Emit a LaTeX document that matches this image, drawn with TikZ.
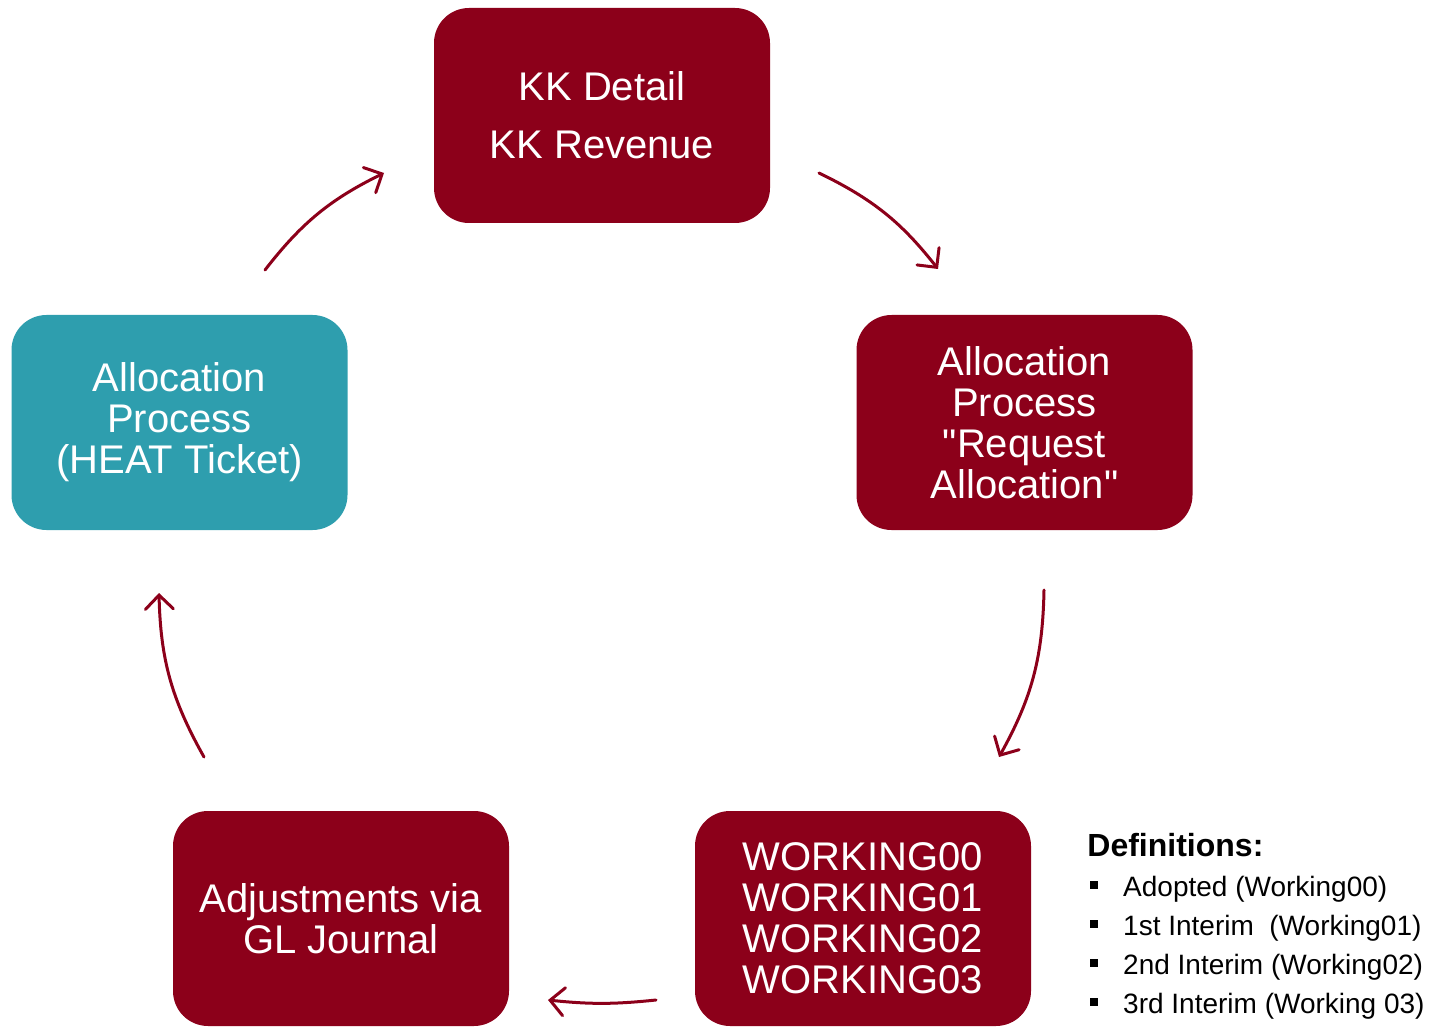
\documentclass[tikz,border=0pt]{standalone}
\usepackage{fontspec}
\setmainfont{Liberation Sans}[Ligatures=TeXOff]
\usetikzlibrary{arrows.meta}
\definecolor{boxred}{RGB}{140,0,26}
\definecolor{boxteal}{RGB}{46,158,174}
\tikzset{
  stagebox/.style={fill=#1, rounded corners=17.5pt, minimum width=168pt, minimum height=107.5pt,
    inner sep=0pt, text=white, align=center, font=\fontsize{20pt}{20.5pt}\selectfont},
  cyclearrow/.style={draw=boxred, line width=1.5pt, line cap=round,
    -{Straight Barb[length=7pt,width=14pt,line cap=round]}},
  deftitle/.style={anchor=base west, inner sep=0pt, font=\bfseries\fontsize{16pt}{19pt}\selectfont},
  defline/.style={anchor=base west, inner sep=0pt, font=\fontsize{14pt}{19.5pt}\selectfont}
}
\newcommand{\defbul}{\rule[3.6pt]{3.8pt}{3.8pt}\hspace{12.6pt}}
\begin{document}
\begin{tikzpicture}[x=0.5pt, y=-0.5pt]
\useasboundingbox (0,0) rectangle (1435,1027);
% boxes
\node[stagebox=boxred] (kk) at (602,115.5) {KK Detail\\[8.5pt]KK Revenue};
\node[stagebox=boxred] (req) at (1024.5,422.5) {Allocation\\Process\\"Request\\Allocation"};
\node[stagebox=boxred] (wrk) at (863,918.5) {WORKING00\\WORKING01\\WORKING02\\WORKING03};
\node[stagebox=boxred] (adj) at (341,918.5) {Adjustments via\\GL Journal};
\node[stagebox=boxteal] (heat) at (179.5,422.5) {Allocation\\Process\\(HEAT Ticket)};
% arrow end points
\coordinate (a1s) at (265,270);  \coordinate (a1e) at (384,173);
\coordinate (a2s) at (819,173);  \coordinate (a2e) at (938,269);
\coordinate (a3s) at (1044,590); \coordinate (a3e) at (999,757);
\coordinate (a4s) at (656,1000); \coordinate (a4e) at (548,1000);
\coordinate (a5s) at (204,757);  \coordinate (a5e) at (159,593);
\draw[cyclearrow] (a1s) to[bend left=13] (a1e);
\draw[cyclearrow] (a2s) to[bend left=13] (a2e);
\draw[cyclearrow] (a3s) to[bend left=14] (a3e);
\draw[cyclearrow] (a4s) to[bend left=6] (a4e);
\draw[cyclearrow] (a5s) to[bend left=14] (a5e);
% definitions
\node[deftitle] (dt) at (1087,856) {Definitions:};
\node[defline] (d1) at (1090,896) {\defbul Adopted (Working00)};
\node[defline] (d2) at (1090,935) {\defbul 1st Interim\ \ (Working01)};
\node[defline] (d3) at (1090,974) {\defbul 2nd Interim (Working02)};
\node[defline] (d4) at (1090,1013) {\defbul 3rd Interim (Working 03)};
\end{tikzpicture}
\end{document}
